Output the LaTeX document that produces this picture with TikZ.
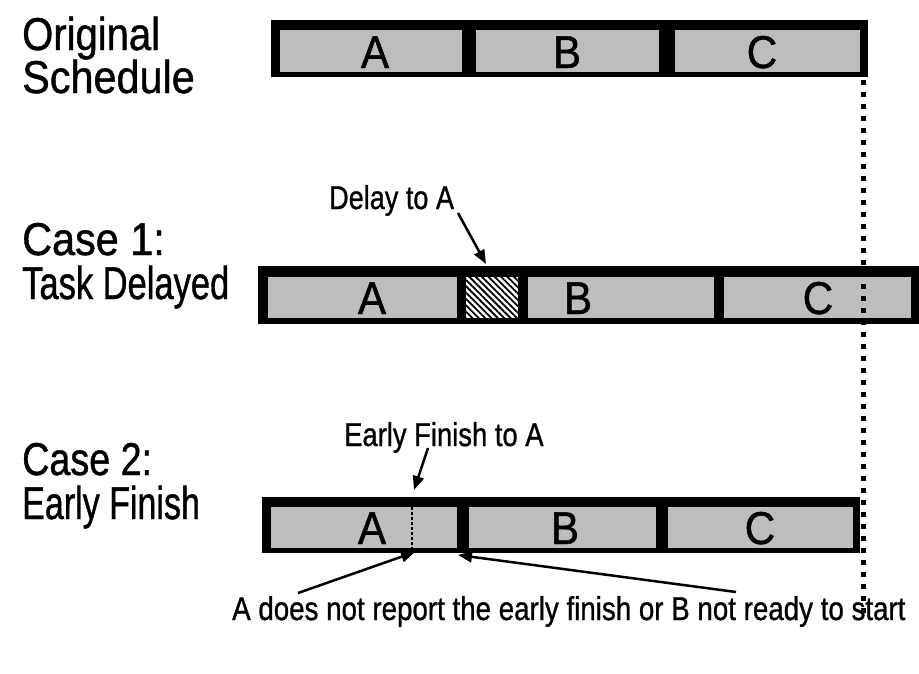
\documentclass[tikz,border=0pt]{standalone}
\usepackage{fontspec}
\usepackage{graphicx}
\setmainfont{Liberation Sans}
\newfontfamily\thick[FakeBold=1.0]{Liberation Sans}
\usetikzlibrary{arrows.meta,patterns.meta}
\begin{document}
\begin{tikzpicture}[x=1pt,y=-1pt,
  bar/.style={fill=black, draw=none, inner sep=0pt},
  cell/.style={fill=black!26, draw=none, inner sep=0pt},
  letter/.style={font=\thick\fontsize{46}{46}\selectfont, anchor=base, inner sep=0pt},
  biglabel/.style={font=\thick\fontsize{46}{46}\selectfont, anchor=base west, inner sep=0pt},
  smalllabel/.style={font=\thick\fontsize{33}{33}\selectfont, anchor=base west, inner sep=0pt},
  pointer/.style={line width=2.5pt, -{Triangle[length=14pt,width=11pt]}},
]
\useasboundingbox[fill=white] (0,0) rectangle (919,673);

% Row 1
\node[bar, minimum width=597pt, minimum height=57pt] (bar1) at (569.5,48.5) {};
\node[cell, minimum width=182pt, minimum height=42pt] (a1) at (371,51) {};
\node[cell, minimum width=183pt, minimum height=42pt] (b1) at (567.5,51) {};
\node[cell, minimum width=185pt, minimum height=42pt] (c1) at (767.5,51) {};
\node[letter] (la1) at (375,68) {\scalebox{0.92}[1]{A}};
\node[letter] (lb1) at (567,68) {\scalebox{0.92}[1]{B}};
\node[letter] (lc1) at (762,68) {\scalebox{0.92}[1]{C}};

% Row 2
\node[bar, minimum width=661pt, minimum height=58pt] (bar2) at (588.5,295) {};
\node[cell, minimum width=189pt, minimum height=41pt] (a2) at (362.5,297.5) {};
\node[fill=white, inner sep=0pt, minimum width=52pt, minimum height=41pt] (d2w) at (492,297.5) {};
\node[inner sep=0pt, minimum width=52pt, minimum height=41pt,
      pattern={Lines[angle=-45,distance=4.5pt,line width=1.8pt]}] (d2) at (492,297.5) {};
\node[cell, minimum width=186pt, minimum height=41pt] (b2) at (621,297.5) {};
\node[cell, minimum width=187pt, minimum height=41pt] (c2) at (817.5,297.5) {};
\node[letter] (la2) at (372,314) {\scalebox{0.92}[1]{A}};
\node[letter] (lb2) at (578,314) {\scalebox{0.92}[1]{B}};
\node[letter] (lc2) at (818,314) {\scalebox{0.92}[1]{C}};

% Row 3
\node[bar, minimum width=598pt, minimum height=56pt] (bar3) at (561,525) {};
\node[cell, minimum width=186pt, minimum height=41pt] (a3) at (364,527.5) {};
\node[cell, minimum width=187pt, minimum height=41pt] (b3) at (562.5,527.5) {};
\node[cell, minimum width=185pt, minimum height=41pt] (c3) at (760.5,527.5) {};
\node[letter] (la3) at (372,544) {\scalebox{0.92}[1]{A}};
\node[letter] (lb3) at (565,544) {\scalebox{0.92}[1]{B}};
\node[letter] (lc3) at (760,544) {\scalebox{0.92}[1]{C}};
\coordinate (fin top) at (412,507);
\coordinate (fin bot) at (412,548);
\draw[line width=1.5pt, dash pattern=on 3pt off 2pt] (fin top) -- (fin bot);

% dotted reference line
\coordinate (dtop) at (863,80);
\coordinate (dbot) at (863,614);
\draw[line width=5pt, dash pattern=on 5pt off 7pt] (dtop) -- (dbot);

% Left labels
\node[biglabel] (orig) at (22,50) {\scalebox{0.87}[1]{Original}};
\node[biglabel] (sched) at (22,93) {\scalebox{0.90}[1]{Schedule}};
\node[biglabel] (case1) at (22,255) {\scalebox{0.90}[1]{Case 1:}};
\node[biglabel] (taskd) at (22,299) {\scalebox{0.75}[1]{Task Delayed}};
\node[biglabel] (case2) at (22,475) {\scalebox{0.82}[1]{Case 2:}};
\node[biglabel] (earlyf) at (22,519) {\scalebox{0.74}[1]{Early Finish}};

% Pointer labels
\node[smalllabel] (delay) at (329,209) {\scalebox{0.82}[1]{Delay to A}};
\node[smalllabel] (early) at (344,446) {\scalebox{0.83}[1]{Early Finish to A}};
\node[smalllabel] (note) at (232,620) {\scalebox{0.84}[1]{A does not report the early finish or B not ready to start}};

\coordinate (p1s) at (458,213);
\coordinate (p1e) at (486,264);
\coordinate (p2s) at (428,448);
\coordinate (p2e) at (414,490);
\coordinate (p3s) at (298,593);
\coordinate (p3e) at (415,552);
\coordinate (p4s) at (736,592);
\coordinate (p4e) at (458,555);
\draw[pointer] (p1s) -- (p1e);
\draw[pointer] (p2s) -- (p2e);
\draw[pointer] (p3s) -- (p3e);
\draw[pointer] (p4s) -- (p4e);
\end{tikzpicture}
\end{document}
